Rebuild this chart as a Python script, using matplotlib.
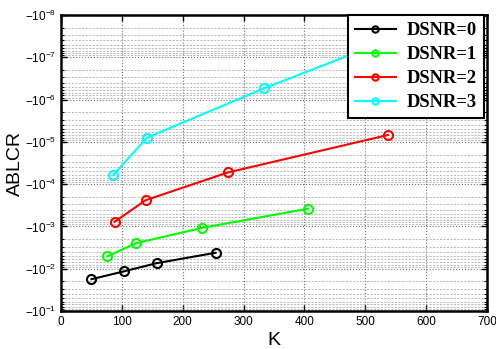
import matplotlib
matplotlib.use('Agg')
import matplotlib.pyplot as plt
import numpy as np
from matplotlib.ticker import FixedLocator, FuncFormatter, NullFormatter

plt.rcParams['font.family'] = ['Liberation Sans', 'DejaVu Sans']

# ---- data ----
series_labels = ['DSNR=0', 'DSNR=1', 'DSNR=2', 'DSNR=3']
k0 = [50, 104, 157, 254]
ablcr0 = [-0.0177, -0.0115, -0.0074, -0.0042]
k1 = [76, 123, 232, 406]
ablcr1 = [-0.0051, -0.0025, -0.00108, -0.00038]
k2 = [88, 139, 274, 537]
ablcr2 = [-7.8e-4, -2.4e-4, -5.3e-5, -6.9e-6]
k3 = [86, 141, 334, 590]
ablcr3 = [-6.1e-5, -8.0e-6, -5.4e-7, -2.0e-8]
colors = ['black', '#00ff00', '#ff0000', '#00ffff']
x_ticks = [0, 100, 200, 300, 400, 500, 600, 700]
y_exponents = [-8, -7, -6, -5, -4, -3, -2, -1]

fig = plt.figure(figsize=(4.96, 3.49), dpi=100)
ax = fig.add_axes([61/496, 38/349, 426/496, 296/349])

ks = [k0, k1, k2, k3]
vals = [ablcr0, ablcr1, ablcr2, ablcr3]
for k, v, c, lab in zip(ks, vals, colors, series_labels):
    mag = -np.asarray(v)
    ax.plot(k, mag, '-o', color=c, lw=1.5, markersize=6.5,
            markerfacecolor='none', markeredgewidth=1.5, label=lab)

ax.set_yscale('log')
ax.set_ylim(10.0**y_exponents[-1], 10.0**y_exponents[0])
ax.set_xlim(x_ticks[0], x_ticks[-1])
ax.xaxis.set_major_locator(FixedLocator(x_ticks))
ax.yaxis.set_major_locator(FixedLocator([10.0**e for e in y_exponents]))
minors = [m * 10.0**e for e in y_exponents[:-1] for m in range(2, 10)]
ax.yaxis.set_minor_locator(FixedLocator(minors))
ax.yaxis.set_minor_formatter(NullFormatter())
ax.yaxis.set_major_formatter(FuncFormatter(
    lambda v, p: r'$\mathregular{-10^{%d}}$' % int(round(np.log10(v)))))

ax.grid(which='major', color='0.45', linestyle=':', linewidth=0.8)
ax.grid(which='minor', axis='y', color='0.62', linestyle=(0, (3, 2)), linewidth=0.5)

ax.tick_params(which='both', direction='in', top=True, right=True, labelsize=8.5)
ax.tick_params(which='major', length=4, width=1)
ax.tick_params(which='minor', length=2, width=0.8)
for s in ax.spines.values():
    s.set_linewidth(1.8)

ax.set_xlabel('K', fontsize=14, labelpad=3)
ax.set_ylabel('ABLCR', fontsize=14, labelpad=1)

leg = ax.legend(loc='upper right', bbox_to_anchor=(423/426, 1.0), borderaxespad=0,
                fancybox=False, framealpha=1, edgecolor='black',
                prop={'family': 'Liberation Serif', 'weight': 'bold', 'size': 13.3},
                handlelength=2.2, labelspacing=0.38, markerscale=0.7,
                borderpad=0.38, handletextpad=0.6)
leg.get_frame().set_linewidth(1.5)
leg.set_zorder(10)

fig.savefig('out.png', dpi=100)
